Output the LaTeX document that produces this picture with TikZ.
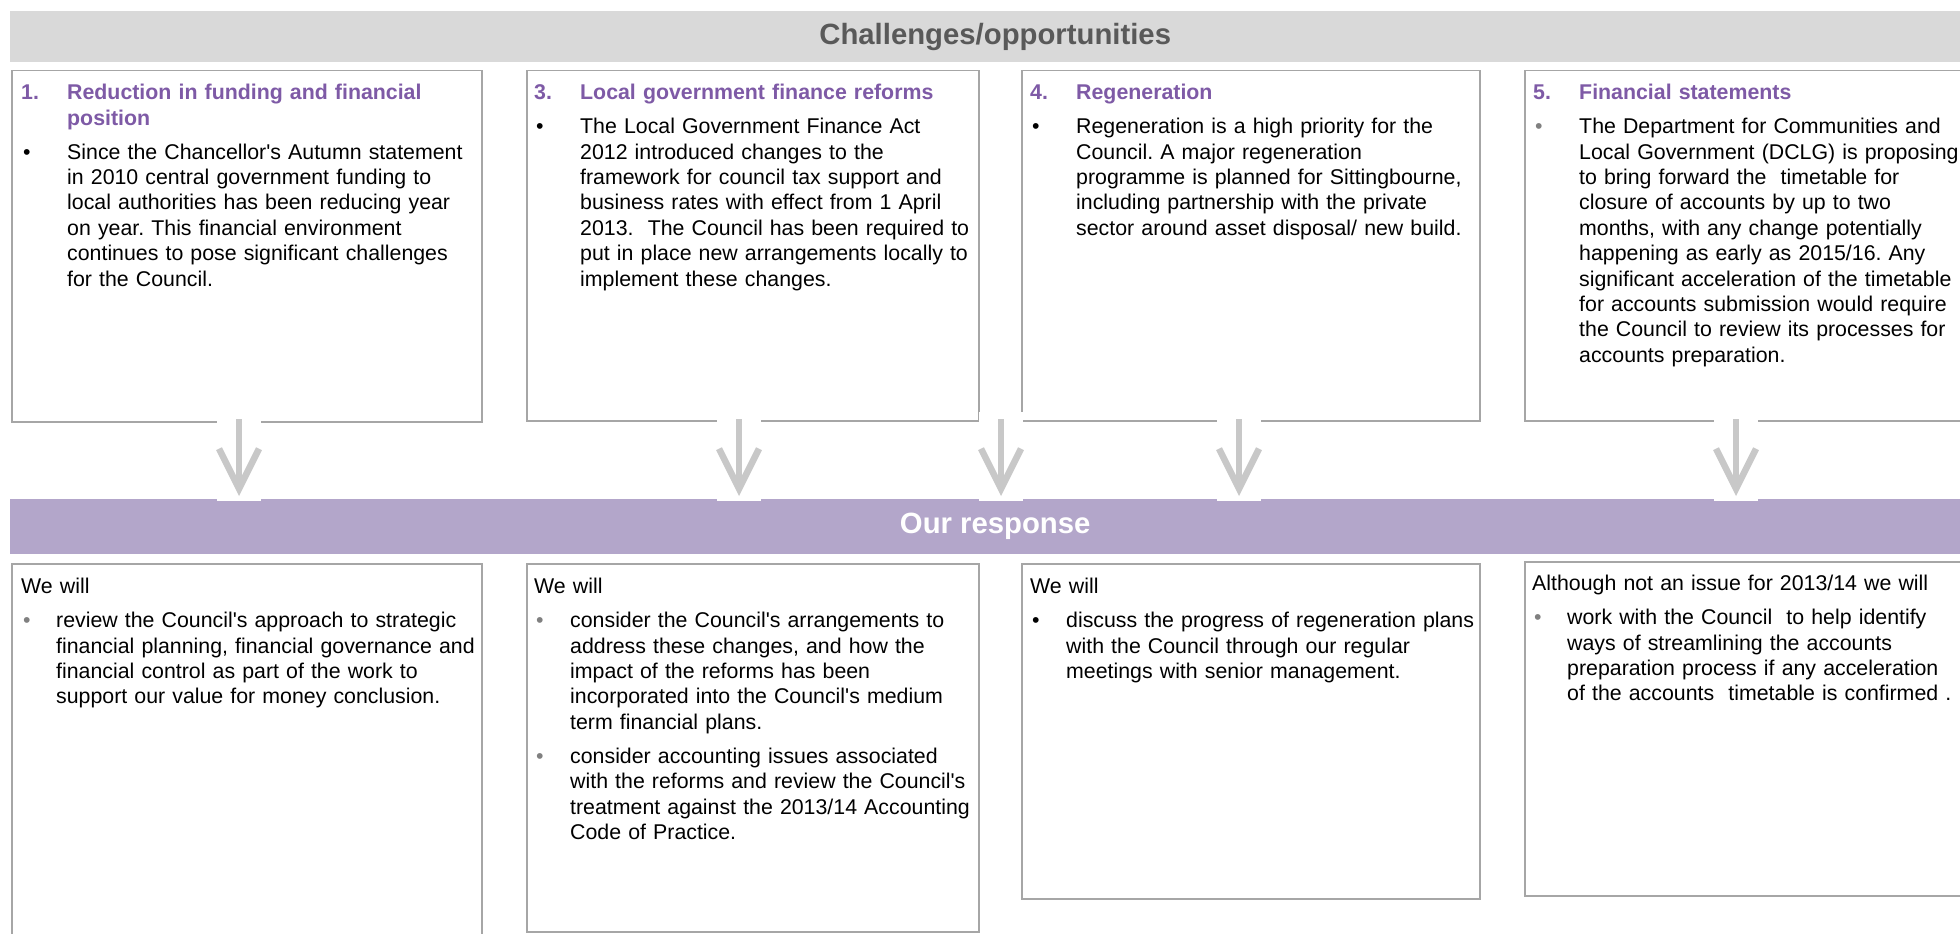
\documentclass[tikz,border=0pt]{standalone}
\usepackage{fontspec}
\setmainfont{Liberation Sans}
\usetikzlibrary{positioning,arrows.meta}
\definecolor{bannergray}{HTML}{D9D9D9}
\definecolor{titlegray}{HTML}{595959}
\definecolor{bannerpurple}{HTML}{B3A6CA}
\definecolor{headpurple}{HTML}{7E5AA6}
\definecolor{boxline}{HTML}{A6A6A6}
\definecolor{arrowgray}{HTML}{C8C8C8}
\definecolor{dotgray}{HTML}{808080}
\newcommand{\hangitem}[2]{\hangindent=#1\hangafter=1\noindent\makebox[#1][l]{#2}\ignorespaces}
\newcommand{\head}[2]{\hangitem{46pt}{\color{headpurple}\bfseries #1}{\color{headpurple}\bfseries #2}}
\newcommand{\dotitem}[2][black]{\par\vspace{8.6pt}\hangitem{#2}{\hspace{2pt}\textcolor{#1}{\textbullet}}}
\newcommand{\lead}[1]{\noindent #1}
\tikzset{
  banner/.style={minimum width=1970pt, inner sep=0pt, anchor=north west,
    font=\fontsize{29.3}{34}\selectfont\bfseries},
  card/.style={draw=boxline, line width=1.5pt, fill=white, inner sep=0pt, anchor=north west},
  cardtext/.style={inner sep=0pt, text width=480pt, font=\fontsize{21.33}{25.4}\selectfont\frenchspacing},
  flow/.style={draw=arrowgray, line width=6.5pt, -{Straight Barb[length=40pt,width=40pt,sharp]}, shorten >=3pt}
}
\begin{document}
\begin{tikzpicture}[x=1pt,y=-1pt]
 \clip (0,0) rectangle (1960,934);
 \fill[white] (0,0) rectangle (1960,934);
 \node[banner, fill=bannergray, text=titlegray, minimum height=51pt] (chal) at (10,11) {Challenges/opportunities};
 \node[banner, fill=bannerpurple, text=white, minimum height=55pt] (resp) at (10,499) {Our response};

 \node[card, minimum width=470pt, minimum height=351pt] (c1) at (11,70) {};
 \node[card, minimum width=452pt, minimum height=350pt] (c3) at (526,70) {};
 \node[card, minimum width=458pt, minimum height=350pt] (c4) at (1021,70) {};
 \node[card, minimum width=460pt, minimum height=350pt] (c5) at (1524,70) {};

 \node[card, minimum width=470pt, minimum height=400pt] (r1) at (11,563) {};
 \node[card, minimum width=452pt, minimum height=368pt] (r2) at (526,563) {};
 \node[card, minimum width=458pt, minimum height=335pt] (r3) at (1021,563) {};
 \node[card, minimum width=460pt, minimum height=334pt] (r4) at (1524,561) {};

 \node[cardtext, below right=14pt and 10pt of c1.north west] (t1) {\head{1.}{Reduction in funding and financial\newline position}
  \dotitem{46pt}Since the Chancellor\textquotesingle s Autumn statement\newline in 2010 central government funding to\newline local authorities has been reducing year\newline on year. This financial environment\newline continues to pose significant challenges\newline for the Council.\par};
 \node[cardtext, below right=14pt and 8pt of c3.north west] (t3) {\head{3.}{Local government finance reforms}
  \dotitem{46pt}The Local Government Finance Act\newline 2012 introduced changes to the\newline framework for council tax support and\newline business rates with effect from 1 April\newline 2013.\ \ The Council has been required to\newline put in place new arrangements locally to\newline implement these changes.\par};
 \node[cardtext, below right=14pt and 9pt of c4.north west] (t4) {\head{4.}{Regeneration}
  \dotitem{46pt}Regeneration is a high priority for the\newline Council. A major regeneration\newline programme is planned for Sittingbourne,\newline including partnership with the private\newline sector around asset disposal/ new build.\par};
 \node[cardtext, below right=14pt and 9pt of c5.north west] (t5) {\head{5.}{Financial statements}
  \dotitem[dotgray]{46pt}The Department for Communities and\newline Local Government (DCLG) is proposing\newline to bring forward the\ \ timetable for\newline closure of accounts by up to two\newline months, with any change potentially\newline happening as early as 2015/16. Any\newline significant acceleration of the timetable\newline for accounts submission would require\newline the Council to review its processes for\newline accounts preparation.\par};

 \node[cardtext, below right=15pt and 10pt of r1.north west] (s1) {\lead{We will}
  \dotitem[dotgray]{35pt}review the Council\textquotesingle s approach to strategic\newline financial planning, financial governance and\newline financial control as part of the work to\newline support our value for money conclusion.\par};
 \node[cardtext, below right=15pt and 8pt of r2.north west] (s2) {\lead{We will}
  \dotitem[dotgray]{36pt}consider the Council\textquotesingle s arrangements to\newline address these changes, and how the\newline impact of the reforms has been\newline incorporated into the Council\textquotesingle s medium\newline term financial plans.
  \dotitem[dotgray]{36pt}consider accounting issues associated\newline with the reforms and review the Council\textquotesingle s\newline treatment against the 2013/14 Accounting\newline Code of Practice.\par};
 \node[cardtext, below right=15pt and 9pt of r3.north west] (s3) {\lead{We will}
  \dotitem{36pt}discuss the progress of regeneration plans\newline with the Council through our regular\newline meetings with senior management.\par};
 \node[cardtext, below right=14pt and 8pt of r4.north west] (s4) {\lead{Although not an issue for 2013/14 we will}
  \dotitem[dotgray]{35pt}work with the Council\ \ to help identify\newline ways of streamlining the accounts\newline preparation process if any acceleration\newline of the accounts\ \ timetable is confirmed .\par};

 \foreach \ax in {239,739,1001,1239,1736}{
  \fill[white] (\ax-22,412) rectangle (\ax+22,501);
  \coordinate (a\ax) at (\ax,419);
  \draw[flow] (a\ax) -- (a\ax |- resp.north);
 }
\end{tikzpicture}
\end{document}
